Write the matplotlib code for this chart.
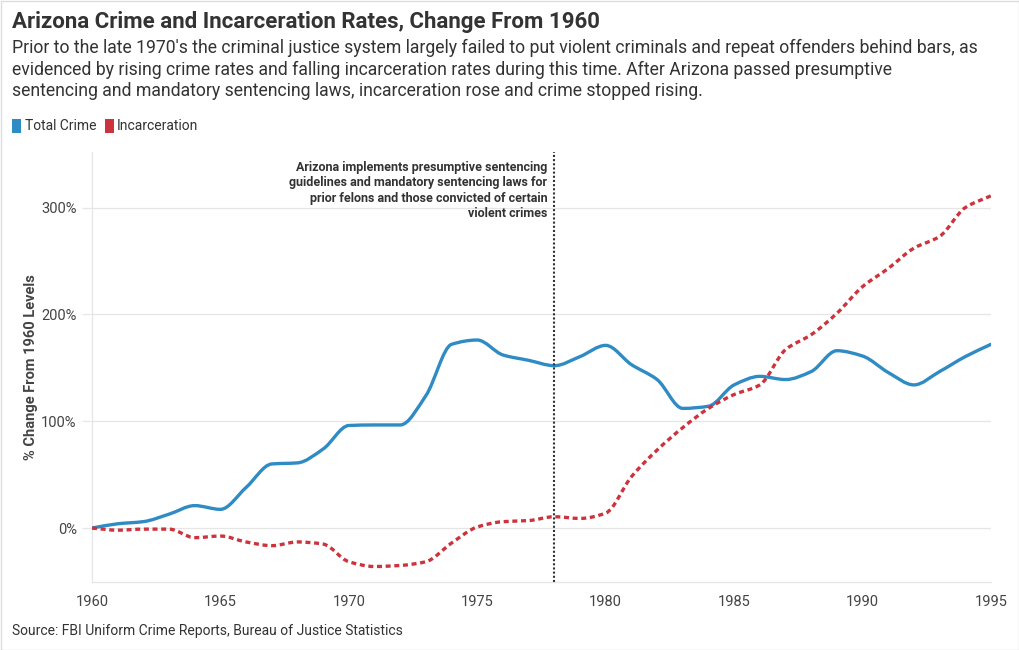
import numpy as np
import matplotlib
matplotlib.use("Agg")
import matplotlib.pyplot as plt
from matplotlib.path import Path
from matplotlib.patches import PathPatch, Rectangle

plt.rcParams['font.family'] = ['Roboto', 'DejaVu Sans']

years = list(range(1960, 1996))
total_crime = [0, 4, 6, 13, 21, 17.5, 38, 60, 61, 74, 96, 96.5, 96.5, 124, 172,
               176, 162, 157, 152, 160.5, 171, 153, 139, 112, 114, 134, 142, 139,
               146.5, 166, 161, 145.6, 134, 146.5, 160.5, 172]
incarceration = [0, -2, -1, -1, -9, -7.5, -13, -16.5, -13, -15, -31.5, -36, -35,
                 -31.5, -14, 1, 6, 7, 10.6, 9, 14, 48, 73, 94, 112, 125, 134, 167,
                 181, 201, 226, 243, 262, 273, 300, 311]
x_ticks = [1960, 1965, 1970, 1975, 1980, 1985, 1990, 1995]
y_ticks = [0, 100, 200, 300]
y_tick_labels = ["0%", "100%", "200%", "300%"]
policy_year = 1978

title = "Arizona Crime and Incarceration Rates, Change From 1960"
subtitle = ("Prior to the late 1970's the criminal justice system largely failed to put violent criminals and repeat offenders behind bars, as\n"
            "evidenced by rising crime rates and falling incarceration rates during this time. After Arizona passed presumptive\n"
            "sentencing and mandatory sentencing laws, incarceration rose and crime stopped rising.")
annotation = ("Arizona implements presumptive sentencing\n"
              "guidelines and mandatory sentencing laws for\n"
              "prior felons and those convicted of certain\n"
              "violent crimes")
source = "Source: FBI Uniform Crime Reports, Bureau of Justice Statistics"

BLUE = "#2f8bc3"
RED = "#cc333d"


def monotone_path(x, y):
    x = np.asarray(x, float)
    y = np.asarray(y, float)
    n = len(x)
    h = np.diff(x)
    d = np.diff(y) / h
    m = np.zeros(n)
    m[0] = d[0]
    m[-1] = d[-1]
    for i in range(1, n - 1):
        if d[i - 1] * d[i] <= 0:
            m[i] = 0
        else:
            m[i] = (h[i - 1] + h[i]) * 3 / ((2 * h[i] + h[i - 1]) / d[i - 1] + (h[i] + 2 * h[i - 1]) / d[i])
    verts = [(x[0], y[0])]
    codes = [Path.MOVETO]
    for i in range(n - 1):
        dx = h[i] / 3
        verts += [(x[i] + dx, y[i] + m[i] * dx), (x[i + 1] - dx, y[i + 1] - m[i + 1] * dx), (x[i + 1], y[i + 1])]
        codes += [Path.CURVE4] * 3
    return Path(verts, codes)


fig = plt.figure(figsize=(10.2, 6.5), dpi=100)
ax = fig.add_axes([92 / 1020, 1 - 582 / 650, 899 / 1020, (582 - 152) / 650])

ax.set_xlim(1960, 1995)
ax.set_ylim(-50.5, 352)

ax.add_patch(PathPatch(monotone_path(years, total_crime), fill=False, edgecolor=BLUE, lw=2.4,
                       capstyle='round', joinstyle='round', zorder=3))
ax.add_patch(PathPatch(monotone_path(years, incarceration), fill=False, edgecolor=RED, lw=2.4,
                       linestyle=(0, (1.5, 1.1)), zorder=3))

ax.axvline(policy_year, color="#333333", lw=1.5, linestyle=(0, (1, 1)), zorder=4)
ax.text(policy_year - 0.28, 344, annotation, ha='right', va='top', fontsize=9,
        fontweight='bold', color="#333333", linespacing=1.25)

ax.set_xticks(x_ticks)
ax.set_xticklabels([str(v) for v in x_ticks])
ax.set_yticks(y_ticks)
ax.set_yticklabels(y_tick_labels)
ax.grid(axis='y', color="#e6e6e6", lw=0.9)
ax.set_axisbelow(True)
ax.tick_params(axis='y', length=7, color="#e6e6e6", width=0.9, labelsize=10.5, labelcolor="#444444", pad=4)
ax.tick_params(axis='x', length=0, labelsize=10.5, labelcolor="#444444", pad=9)
for s in ['top', 'right']:
    ax.spines[s].set_visible(False)
ax.spines['left'].set_color("#e6e6e6")
ax.spines['bottom'].set_color("#e6e6e6")
ax.spines['left'].set_linewidth(0.9)
ax.spines['bottom'].set_linewidth(0.9)

ax.set_ylabel("% Change From 1960 Levels", fontsize=10.5, fontweight='bold', color="#444444", labelpad=2)

fig.text(12 / 1020, 1 - 22 / 650, title, fontsize=16, fontweight='bold', color="#333333", va='center', ha='left')
fig.text(12 / 1020, 1 - 39 / 650, subtitle, fontsize=12.7, color="#333333", va='top', ha='left', linespacing=1.24)

# legend
fig.patches.append(Rectangle((12 / 1020, 1 - 133 / 650), 9 / 1020, 14 / 650, transform=fig.transFigure,
                             facecolor=BLUE, edgecolor='none'))
fig.text(25 / 1020, 1 - 126 / 650, "Total Crime", fontsize=10, color="#333333", va='center', ha='left')
fig.patches.append(Rectangle((105 / 1020, 1 - 133 / 650), 9 / 1020, 14 / 650, transform=fig.transFigure,
                             facecolor=RED, edgecolor='none'))
fig.text(117 / 1020, 1 - 126 / 650, "Incarceration", fontsize=10, color="#333333", va='center', ha='left')

fig.text(12 / 1020, 1 - 631 / 650, source, fontsize=10, color="#333333", va='center', ha='left')

fig.patches.append(Rectangle((0.5 / 1020, 0.5 / 650), 1018.5 / 1020, 648.5 / 650, transform=fig.transFigure,
                             facecolor='none', edgecolor="#dddddd", lw=1))

fig.savefig("out.png", dpi=100)
